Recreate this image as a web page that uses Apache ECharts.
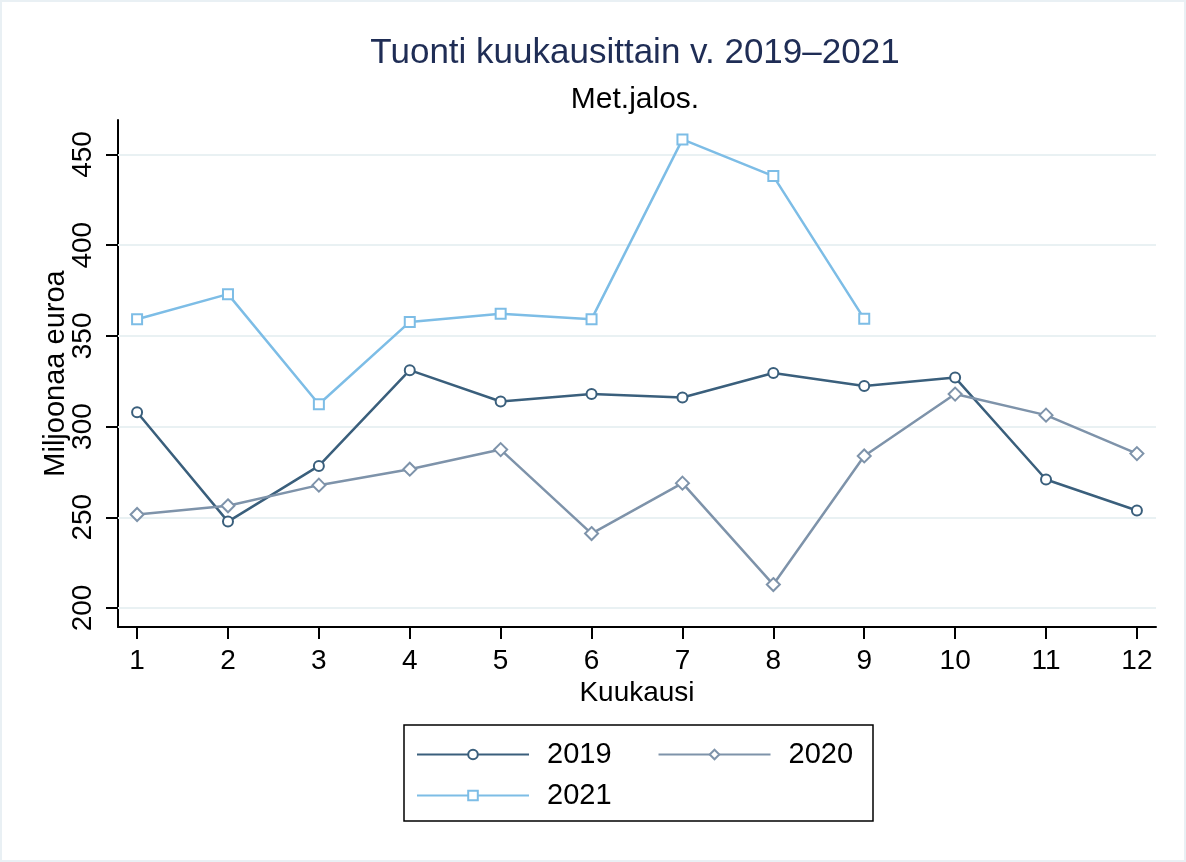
<!DOCTYPE html>
<html>
<head>
<meta charset="utf-8">
<script src="https://cdn.jsdelivr.net/npm/echarts@6/dist/echarts.min.js"></script>
<style>
html,body{margin:0;padding:0;background:#fff;}
#chart{width:1186px;height:862px;}
</style>
</head>
<body>
<div id="chart"></div>
<script>
var months = [1, 2, 3, 4, 5, 6, 7, 8, 9, 10, 11, 12];
var seriesNames = ['2019', '2020', '2021'];
var v2019 = [307.9, 247.6, 278.3, 331.1, 313.8, 317.9, 316.0, 329.5, 322.3, 327.0, 270.8, 253.7];
var v2020 = [251.5, 256.3, 267.7, 276.5, 287.3, 241.0, 268.8, 212.9, 283.8, 317.9, 306.3, 285.1];
var v2021 = [359.2, 373.0, 312.3, 357.7, 362.2, 359.2, 458.3, 438.1, 359.4];
var yTicks = [200, 250, 300, 350, 400, 450];

var FONT = '"Liberation Sans", Arial, sans-serif';
var C2019 = '#3a5f7c', C2020 = '#7e93aa', C2021 = '#7dbde6';

function pairs(vals) {
  return vals.map(function (v, i) { return [months[i], v]; });
}

var chart = echarts.init(document.getElementById('chart'), null, {renderer: 'canvas'});

function lineSeries(name, vals, color, symbol, size) {
  return {
    name: name,
    type: 'line',
    data: pairs(vals),
    symbol: symbol,
    symbolSize: size,
    showAllSymbol: true,
    z: 3,
    lineStyle: {color: color, width: 2.5},
    itemStyle: {color: color, borderColor: color, borderWidth: 2},
    emphasis: {disabled: true},
    animation: false
  };
}

var option = {
  backgroundColor: '#ffffff',
  animation: false,
  title: {
    text: 'Tuonti kuukausittain v. 2019\u20132021',
    subtext: 'Met.jalos.',
    left: 630,
    textAlign: 'center',
    top: 31,
    itemGap: 14,
    textStyle: {fontFamily: FONT, fontSize: 35, fontWeight: 'normal', color: '#1f2d55'},
    subtextStyle: {fontFamily: FONT, fontSize: 30, color: '#000000'}
  },
  grid: {left: 118, right: 30, top: 120, bottom: 235, containLabel: false},
  xAxis: {
    type: 'value',
    min: 0.79,
    max: 12.21,
    name: 'Kuukausi',
    nameLocation: 'middle',
    nameGap: 52,
    nameMoveOverlap: false,
    nameTextStyle: {fontFamily: FONT, fontSize: 28, color: '#000'},
    axisLine: {show: true, onZero: false, lineStyle: {color: '#000', width: 2}},
    axisTick: {show: true, length: 12, customValues: months, lineStyle: {color: '#000', width: 2}},
    axisLabel: {customValues: months, fontFamily: FONT, fontSize: 28, color: '#000', margin: 20},
    splitLine: {show: false}
  },
  yAxis: {
    type: 'value',
    min: 189.5,
    max: 469,
    name: 'Miljoonaa euroa',
    nameLocation: 'middle',
    nameGap: 48,
    nameMoveOverlap: false,
    nameRotate: 90,
    nameTextStyle: {fontFamily: FONT, fontSize: 29, color: '#000'},
    axisLine: {show: true, onZero: false, lineStyle: {color: '#000', width: 2}},
    axisTick: {show: true, length: 12, customValues: yTicks, lineStyle: {color: '#000', width: 2}},
    axisLabel: {customValues: yTicks, rotate: 90, fontFamily: FONT, fontSize: 28, color: '#000', margin: 21},
    splitLine: {show: false}
  },
  legend: [
    {
      data: ['2019', '2020'],
      left: 416, top: 740, padding: 0,
      orient: 'horizontal',
      itemWidth: 112, itemHeight: 12, itemGap: 46,
      textStyle: {fontFamily: FONT, fontSize: 29, color: '#000', padding: [0, 0, 0, 13]},
      selectedMode: false
    },
    {
      data: ['2021'],
      left: 416, top: 781, padding: 0,
      orient: 'horizontal',
      itemWidth: 112, itemHeight: 12, itemGap: 46,
      textStyle: {fontFamily: FONT, fontSize: 29, color: '#000', padding: [0, 0, 0, 13]},
      selectedMode: false
    }
  ],
  graphic: [
    {type: 'rect', shape: {x: 404, y: 725, width: 469, height: 96}, style: {fill: 'none', stroke: '#000', lineWidth: 1.5}, silent: true},
    {type: 'rect', shape: {x: 1, y: 1, width: 1184, height: 860}, style: {fill: 'none', stroke: '#e9f0f4', lineWidth: 2}, silent: true}
  ],
  series: [
    {
      name: 'grid',
      type: 'line',
      data: [],
      z: 1,
      silent: true,
      markLine: {
        silent: true,
        symbol: 'none',
        z: 1,
        label: {show: false},
        lineStyle: {color: '#e9f1f3', width: 2, type: 'solid'},
        emphasis: {disabled: true},
        data: yTicks.map(function (t) { return {yAxis: t}; })
      }
    },
    lineSeries('2019', v2019, C2019, 'emptyCircle', 10),
    lineSeries('2020', v2020, C2020, 'emptyDiamond', 13),
    lineSeries('2021', v2021, C2021, 'emptyRect', 10)
  ]
};
chart.setOption(option);
</script>
</body>
</html>
